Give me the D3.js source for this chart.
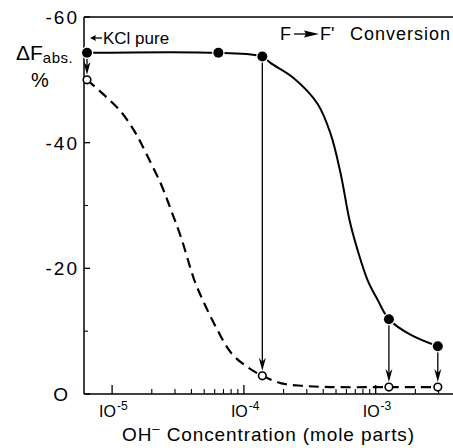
<!DOCTYPE html>
<html>
<head>
<meta charset="utf-8">
<script src="https://cdnjs.cloudflare.com/ajax/libs/d3/7.8.5/d3.min.js"></script>
<style>
  body { margin: 0; background: #fff; }
  svg { display: block; font-family: "Liberation Sans", Arial, sans-serif; }
</style>
</head>
<body>
<div id="chart"></div>
<script>
(function(d3) {
  'use strict';

  var width = 453, height = 448;

  // dashed curve (after conversion)
  var dashedConc = [6.45e-6, 8.69e-6, 1.17e-5, 1.50e-5, 1.85e-5, 2.36e-5, 2.81e-5, 3.35e-5, 4.21e-5,
                    5.01e-5, 6.29e-5, 8.03e-5, 1.06e-4, 1.38e-4, 1.93e-4, 2.8e-4, 4.55e-4, 1.26e-3, 2.96e-3];
  var dashedVal  = [-50.0, -47.6, -44.9, -41.6, -37.9, -33.3, -29.2, -24.8, -18.1,
                    -14.4, -10.2, -6.5, -4.3, -2.9, -1.7, -1.3, -1.1, -1.1, -1.1];

  // solid curve (before conversion)
  var solidConc = [6.45e-6, 6.4e-5, 1.38e-4, 1.59e-4, 2.38e-4, 3.62e-4, 4.55e-4, 5.42e-4, 6.34e-4,
                   7.29e-4, 8.69e-4, 1.04e-3, 1.26e-3, 1.85e-3, 2.96e-3];
  var solidVal  = [-54.3, -54.3, -53.7, -52.7, -50.3, -46.2, -41.4, -35.1, -27.6,
                   -22.9, -18.1, -14.9, -11.9, -9.4, -7.6];

  // measured points
  var filledConc = [6.45e-6, 6.4e-5, 1.38e-4, 1.26e-3, 2.96e-3];
  var filledVal  = [-54.3, -54.3, -53.7, -11.9, -7.6];
  var openConc   = [6.45e-6, 1.38e-4, 1.26e-3, 2.96e-3];
  var openVal    = [-50.0, -2.9, -1.1, -1.1];
  var arrowFrom  = [0, 2, 3, 4];   // filled index -> open index (same order)

  var yMajor = [0, -20, -40, -60];
  var yMinor = [-10, -30, -50];
  var xMajorExp = [-5, -4, -3];

  var x = d3.scaleLog().domain([6.12e-6, 3.86e-3]).range([84, 453]);
  var y = d3.scaleLinear().domain([0, -60]).range([394, 17]);

  var svg = d3.select('#chart').append('svg')
    .attr('width', width).attr('height', height);

  // frame: left axis, top line, bottom axis
  svg.append('line').attr('x1', x.range()[0]).attr('x2', x.range()[0])
    .attr('y1', y(0)).attr('y2', y(-60)).attr('stroke', '#000').attr('stroke-width', 1.5);
  svg.append('line').attr('x1', x.range()[0]).attr('x2', x.range()[1])
    .attr('y1', y(-60)).attr('y2', y(-60)).attr('stroke', '#000').attr('stroke-width', 1.5);
  svg.append('line').attr('x1', x.range()[0]).attr('x2', x.range()[1])
    .attr('y1', y(0)).attr('y2', y(0)).attr('stroke', '#000').attr('stroke-width', 1.5);

  // y ticks (inside)
  svg.selectAll('.ymaj').data(yMajor).enter().append('line')
    .attr('x1', 84).attr('x2', 90)
    .attr('y1', function(d) { return y(d); }).attr('y2', function(d) { return y(d); })
    .attr('stroke', '#000').attr('stroke-width', 1.3);
  svg.selectAll('.ymin').data(yMinor).enter().append('line')
    .attr('x1', 84).attr('x2', 88)
    .attr('y1', function(d) { return y(d); }).attr('y2', function(d) { return y(d); })
    .attr('stroke', '#000').attr('stroke-width', 1.1);
  svg.selectAll('.ylab').data(yMajor).enter().append('text')
    .attr('x', function(d) { return d === 0 ? 70 : 79; })
    .attr('y', function(d) { return y(d) + 7; })
    .attr('text-anchor', 'end')
    .style('font-size', '19px')
    .style('letter-spacing', '2px')
    .text(function(d) { return d === 0 ? 'O' : '-' + Math.abs(d); });

  // x ticks (inside, pointing up)
  var xMinor = [];
  [1e-5, 1e-4, 1e-3].forEach(function(dec) {
    for (var k = 2; k <= 9; k++) {
      var v = k * dec;
      if (v < x.domain()[1]) xMinor.push(v);
    }
  });
  svg.selectAll('.xmin').data(xMinor).enter().append('line')
    .attr('x1', function(d) { return x(d); }).attr('x2', function(d) { return x(d); })
    .attr('y1', y(0)).attr('y2', y(0) - 5)
    .attr('stroke', '#000').attr('stroke-width', 1.1);
  svg.selectAll('.xmaj').data(xMajorExp).enter().append('line')
    .attr('x1', function(d) { return x(Math.pow(10, d)); }).attr('x2', function(d) { return x(Math.pow(10, d)); })
    .attr('y1', y(0)).attr('y2', y(0) - 9)
    .attr('stroke', '#000').attr('stroke-width', 1.3);
  var xl = svg.selectAll('.xlab').data(xMajorExp).enter().append('text')
    .attr('x', function(d) { return x(Math.pow(10, d)) - 13; })
    .attr('y', 417)
    .style('font-size', '16px');
  xl.append('tspan').text('IO');
  xl.append('tspan').attr('dx', 1).attr('dy', -7).style('font-size', '12px')
    .text(function(d) { return '-' + Math.abs(d); });

  // axis titles
  var xt = svg.append('text').attr('x', 122).attr('y', 441)
    .style('font-size', '19px').style('letter-spacing', '0.9px');
  xt.append('tspan').text('OH');
  xt.append('tspan').attr('dy', -8).style('font-size', '13px').text('\u2013');
  xt.append('tspan').attr('dy', 8).text(' Concentration  (mole parts)');

  var yt = svg.append('text').attr('x', 16).attr('y', 60).style('font-size', '21px');
  yt.append('tspan').text('\u0394F');
  yt.append('tspan').attr('dy', 3).style('font-size', '15px').style('letter-spacing', '0.5px').text('abs.');
  svg.append('text').attr('x', 31).attr('y', 87).style('font-size', '20px').text('%');

  // curves
  var line = d3.line()
    .x(function(d) { return x(d[0]); })
    .y(function(d) { return y(d[1]); })
    .curve(d3.curveCatmullRom.alpha(0.5));

  svg.append('path')
    .datum(d3.zip(dashedConc, dashedVal))
    .attr('d', line)
    .attr('fill', 'none').attr('stroke', '#000').attr('stroke-width', 2.2)
    .attr('stroke-dasharray', '10,6');

  svg.append('path')
    .datum(d3.zip(solidConc, solidVal))
    .attr('d', line)
    .attr('fill', 'none').attr('stroke', '#000').attr('stroke-width', 2);

  // arrows from filled to open points
  arrowFrom.forEach(function(fi, oi) {
    var ax = x(filledConc[fi]);
    var y1 = y(filledVal[fi]) + 5;
    var y2 = y(openVal[oi]) - 5;
    svg.append('line').attr('x1', ax).attr('x2', ax)
      .attr('y1', y1).attr('y2', y2 - 6)
      .attr('stroke', '#000').attr('stroke-width', 1.3);
    svg.append('path')
      .attr('d', 'M' + (ax - 3.5) + ',' + (y2 - 13) + 'L' + ax + ',' + (y2 - 9) +
                 'L' + (ax + 3.5) + ',' + (y2 - 13) + 'L' + ax + ',' + y2 + 'Z')
      .attr('fill', '#000');
  });

  // points
  svg.selectAll('.filled').data(d3.zip(filledConc, filledVal)).enter().append('circle')
    .attr('cx', function(d) { return x(d[0]); })
    .attr('cy', function(d) { return y(d[1]); })
    .attr('r', 5).attr('fill', '#000').attr('stroke', '#fff').attr('stroke-width', 2.5)
    .attr('paint-order', 'stroke');
  svg.selectAll('.open').data(d3.zip(openConc, openVal)).enter().append('circle')
    .attr('cx', function(d) { return x(d[0]); })
    .attr('cy', function(d) { return y(d[1]); })
    .attr('r', 3.8).attr('fill', '#fff').attr('stroke', '#000').attr('stroke-width', 1.6);

  // annotations
  var kx = x(filledConc[0]) + 3, ky = 38;
  svg.append('line').attr('x1', kx + 3).attr('x2', kx + 12).attr('y1', ky).attr('y2', ky)
    .attr('stroke', '#000').attr('stroke-width', 1.3);
  svg.append('path').attr('d', 'M' + kx + ',' + ky + 'l6,-3l-1,3l1,3z').attr('fill', '#000');
  svg.append('text').attr('x', kx + 13).attr('y', ky + 6).style('font-size', '17px').text('KCl pure');

  var t = svg.append('g');
  t.append('text').attr('x', 280).attr('y', 40).style('font-size', '18px').text('F');
  t.append('line').attr('x1', 294).attr('x2', 306).attr('y1', 34).attr('y2', 34)
    .attr('stroke', '#000').attr('stroke-width', 1.3);
  t.append('path').attr('d', 'M319,34L304,30.5L306,34L304,37.5Z').attr('fill', '#000');
  t.append('text').attr('x', 320).attr('y', 40).style('font-size', '18px').text("F'");
  t.append('text').attr('x', 350).attr('y', 40).style('font-size', '18px')
    .attr('textLength', 100).attr('lengthAdjust', 'spacing').text('Conversion');

})(window.d3);
</script>
</body>
</html>
